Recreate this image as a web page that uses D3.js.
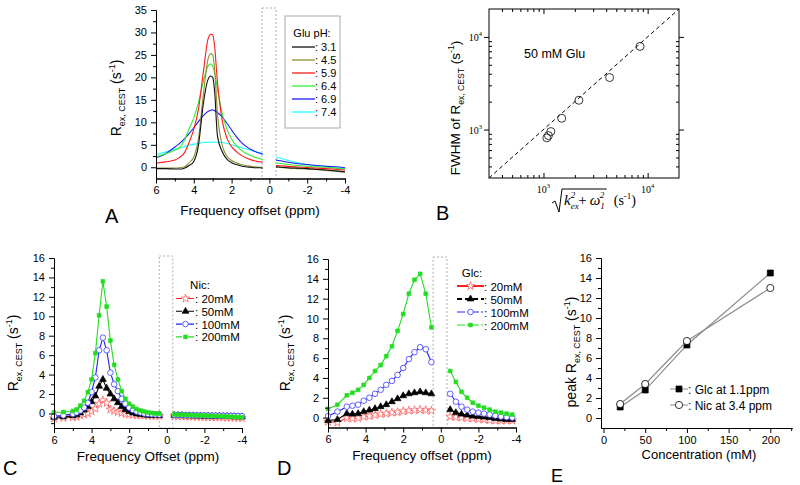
<!DOCTYPE html>
<html><head><meta charset="utf-8">
<script src="https://cdn.jsdelivr.net/npm/d3@7"></script>
<style>html,body{margin:0;padding:0;background:#fff;}</style>
</head><body>
<svg id="chart" width="800" height="485" xmlns="http://www.w3.org/2000/svg"></svg>
<script>
// ---------------- data ----------------
// Panel A: Glu at different pH (null = gap around 0 ppm)
const ppmA = [6,5.5,5,4.75,4.5,4.25,4,3.75,3.5,3.25,3.1,3.0,2.9,2.75,2.5,2.25,2,1.75,1.5,1.25,1,0.75,0.5,0.35,0,-0.35,-0.5,-1,-1.5,-2,-2.5,-3,-3.5,-4];
const gluPH = ["3.1","4.5","5.9","6.4","6.9","7.4"];
const glu31 = [-0.3,-0.3,-0.4,-0.4,-0.2,0.4,1.3,5,14,19.5,20.3,20,17,7,3.5,1.8,1.0,0.6,0.3,0.1,0,-0.1,-0.1,-0.2,null,0.1,0.05,-0.1,-0.2,-0.3,-0.5,-0.6,-0.8,-1.0];
const glu45 = [-0.2,-0.2,-0.2,-0.1,0.1,1.0,2.3,6.5,16,24,25.3,25,22,12,5,2.5,1.5,1,0.6,0.4,0.2,0.1,0,0,null,0.05,0,-0.2,-0.3,-0.4,-0.5,-0.7,-0.9,-1.1];
const glu59 = [0.9,1.2,1.6,2.2,3.2,5.5,8.5,13,21,28.5,29.6,29.5,27,19,10.5,6.5,4.6,3.5,2.7,2.1,1.7,1.4,1.2,1.1,null,0.4,0.35,0.2,0.05,-0.05,-0.2,-0.3,-0.45,-0.6];
const glu64 = [2.3,3.0,3.8,4.4,6,8.5,11,14.5,19,22.5,23,22.5,21,17.5,12,8.5,6.3,4.8,3.8,3.1,2.6,2.2,1.9,1.7,null,1.0,0.9,0.6,0.4,0.2,0.1,0,-0.2,-0.4];
const glu69 = [2.1,3,4.5,5.3,6.3,7.5,8.8,10.2,11.5,12.4,12.7,12.8,12.6,12.2,11.2,9.8,8.3,6.8,5.6,4.7,4,3.5,3.1,2.9,null,1.6,1.5,1.1,0.8,0.6,0.4,0.2,0.1,-0.1];
const glu74 = [2.8,3.4,4.0,4.3,4.6,4.9,5.1,5.3,5.5,5.55,5.6,5.6,5.6,5.55,5.5,5.3,5.0,4.7,4.4,4.1,3.8,3.5,3.2,3.0,null,2.3,2.1,1.5,1.0,0.6,0.3,0.1,-0.1,-0.3];

// Panel B: FWHM vs sqrt(kex^2 + w1^2)
const bX = [1077,1116,1177,1496,2188,4314,8450];
const bY = [814,861,951,1324,2070,3640,7900];

// Panel C: Nic
const ppmC = [6,5.5,5,4.8,4.6,4.4,4.2,4,3.8,3.6,3.4,3.2,3,2.8,2.6,2.4,2.2,2,1.8,1.6,1.4,1.2,1,0.8,0.6,0.4,0,-0.4,-0.6,-0.8,-1,-1.2,-1.4,-1.6,-1.8,-2,-2.2,-2.4,-2.6,-2.8,-3,-3.2,-3.4,-3.6,-3.8,-4];
const concLabels = ["20mM","50mM","100mM","200mM"];
const nic20 = [-0.5,-0.45,-0.4,-0.35,-0.2,-0.1,0,0.2,0.5,1.0,1.35,1.1,0.4,0.25,0.15,0.05,-0.05,-0.1,-0.15,-0.2,-0.2,-0.22,-0.24,-0.25,-0.25,-0.26,null,-0.28,-0.3,-0.3,-0.32,-0.32,-0.33,-0.35,-0.35,-0.36,-0.38,-0.4,-0.4,-0.4,-0.42,-0.42,-0.44,-0.45,-0.45,-0.46];
const nic50 = [-0.4,-0.35,-0.25,-0.15,0.05,0.35,0.7,1.2,1.8,2.8,3.5,2.6,2.0,1.5,1.1,0.7,0.4,0.2,0.05,-0.05,-0.1,-0.15,-0.18,-0.2,-0.22,-0.22,null,-0.2,-0.22,-0.22,-0.24,-0.24,-0.25,-0.26,-0.27,-0.28,-0.28,-0.3,-0.3,-0.3,-0.32,-0.32,-0.33,-0.34,-0.35,-0.35];
const nic100 = [-0.3,-0.2,-0.05,0.1,0.3,0.6,1.1,2.2,3.7,6.5,7.8,6.5,4.2,3.0,2.3,1.5,1.0,0.6,0.35,0.2,0.1,0,-0.05,-0.08,-0.1,-0.12,null,-0.15,-0.15,-0.16,-0.17,-0.18,-0.18,-0.2,-0.2,-0.2,-0.22,-0.22,-0.22,-0.24,-0.24,-0.25,-0.25,-0.26,-0.27,-0.28];
const nic200 = [0.1,0.15,0.25,0.4,0.8,1.3,2.2,3.5,6.2,10.1,13.6,11.0,7.5,5.0,3.5,2.3,1.5,1.0,0.7,0.45,0.3,0.2,0.1,0.05,0,-0.02,null,-0.1,-0.12,-0.14,-0.15,-0.17,-0.18,-0.2,-0.2,-0.22,-0.24,-0.25,-0.27,-0.28,-0.3,-0.32,-0.34,-0.36,-0.38,-0.4];

// Panel D: Glc
const ppmD = [6,5.5,5,4.7,4.4,4.1,3.8,3.5,3.2,2.9,2.6,2.3,2,1.7,1.4,1.1,0.8,0.5,0,-0.5,-0.8,-1.1,-1.4,-1.7,-2,-2.3,-2.6,-2.9,-3.2,-3.5,-3.8];
const glc20 = [-0.4,-0.5,-0.05,-0.1,-0.05,0.1,0.15,0.25,0.35,0.4,0.5,0.55,0.65,0.7,0.75,0.8,0.75,0.7,null,0.1,0.05,0,-0.05,-0.1,-0.15,-0.2,-0.25,-0.3,-0.3,-0.3,-0.3];
const glc50 = [-0.3,-0.2,0.4,0.35,0.4,0.6,0.75,0.9,1.1,1.3,1.6,1.9,2.2,2.4,2.5,2.6,2.5,2.4,null,0.8,0.5,0.35,0.25,0.15,0.1,0.05,0,-0.1,-0.15,-0.2,-0.2];
const glc100 = [0.15,0.6,1.1,1.2,1.3,1.7,2.0,2.4,2.8,3.3,3.7,4.3,5.0,5.9,6.6,7.1,6.9,5.6,null,2.4,1.6,1.1,0.8,0.6,0.5,0.4,0.3,0.2,0.1,0.05,0.0];
const glc200 = [0.87,1.3,2.25,2.5,2.8,3.3,4.0,4.7,5.3,6.2,7.2,8.75,10.45,12.5,13.9,14.5,12.5,9.1,null,4.7,3.6,2.6,2.0,1.5,1.2,1.0,0.8,0.6,0.5,0.4,0.3];

// Panel E: peak vs concentration
const concE = [20,50,100,200];
const glcPeak = [1.1,2.8,7.3,14.5];
const nicPeak = [1.4,3.4,7.7,13.0];

// ---------------- drawing ----------------
const SANS = '"Liberation Sans", Arial, sans-serif';
const SERIF = '"Liberation Serif", "Times New Roman", serif';
const svg = d3.select('#chart').attr('font-family', SANS);

function styleAxis(g, fs) {
  g.attr('font-family', SANS);
  g.selectAll('text').attr('font-size', fs || 11).attr('fill', '#000').attr('font-family', SANS);
  g.selectAll('path.domain').attr('stroke', '#000').attr('stroke-width', 1);
  g.selectAll('line').attr('stroke', '#000').attr('stroke-width', 1);
}

function linAxes(x, y, xMajor, xMinor, yMajor, yMinor) {
  const yb = y.range()[0], xl = x.range()[0];
  const bx = svg.append('g').attr('transform', `translate(0,${yb})`);
  bx.append('g').call(d3.axisBottom(x).tickValues(xMinor).tickSize(3).tickFormat('').tickSizeOuter(0));
  bx.append('g').call(d3.axisBottom(x).tickValues(xMajor).tickSize(5).tickPadding(3).tickSizeOuter(0).tickFormat(d => String(d)));
  styleAxis(bx);
  const ly = svg.append('g').attr('transform', `translate(${xl},0)`);
  ly.append('g').call(d3.axisLeft(y).tickValues(yMinor).tickSize(3).tickFormat('').tickSizeOuter(0));
  ly.append('g').call(d3.axisLeft(y).tickValues(yMajor).tickSize(5).tickPadding(4).tickSizeOuter(0).tickFormat(d => String(d)));
  styleAxis(ly);
}

function gapBox(x, y, a, b) {
  svg.append('rect')
    .attr('x', x(a)).attr('width', x(b) - x(a))
    .attr('y', y.range()[1] - 2).attr('height', y.range()[0] - y.range()[1] + 2)
    .attr('fill', 'none').attr('stroke', '#999').attr('stroke-width', 0.8).attr('stroke-dasharray', '2,2');
}

function rexLabel(g, fs, prefix) {
  const t = g.append('text').attr('text-anchor', 'middle').attr('font-size', fs).attr('fill', '#000');
  t.append('tspan').text(prefix + 'R');
  t.append('tspan').attr('font-size', fs * 0.64).attr('dy', 4).text('ex, CEST');
  t.append('tspan').attr('dy', -4).text(' (s');
  t.append('tspan').attr('font-size', fs * 0.64).attr('dy', -6).text('-1');
  t.append('tspan').attr('dy', 6).text(')');
  return t;
}

function text(x, y, s, fs, anchor) {
  return svg.append('text').attr('x', x).attr('y', y).attr('font-size', fs)
    .attr('text-anchor', anchor || 'start').attr('fill', '#000').text(s);
}

function marker(g, sym, cx, cy) {
  if (sym.type === 'circle') {
    g.append('circle').attr('cx', cx).attr('cy', cy).attr('r', sym.r)
      .attr('fill', sym.fill).attr('stroke', sym.stroke).attr('stroke-width', 0.8);
  } else {
    g.append('path').attr('d', d3.symbol().type(sym.type).size(sym.size)())
      .attr('transform', `translate(${cx},${cy})`)
      .attr('fill', sym.fill).attr('stroke', sym.stroke).attr('stroke-width', 0.7);
  }
}

function series(x, y, xs, ys, color, sym, curve) {
  const pts = xs.map((v, i) => ({x: v, y: ys[i]}));
  const line = d3.line().defined(d => d.y != null).x(d => x(d.x)).y(d => y(d.y));
  if (curve) line.curve(curve);
  svg.append('path').attr('d', line(pts)).attr('fill', 'none').attr('stroke', color).attr('stroke-width', 1.1);
  if (sym) {
    const g = svg.append('g');
    pts.filter(d => d.y != null).forEach(d => marker(g, sym, x(d.x), y(d.y)));
  }
}

// ---- Panel A ----
const xA = d3.scaleLinear().domain([6, -4]).range([156, 345]);
const yA = d3.scaleLinear().domain([-2.5, 35]).range([178.5, 10]);
const colorsA = ["#111111", "#8f8f30", "#ff1a1a", "#33ee33", "#1a1aff", "#22ffff"];
const seriesA = [glu31, glu45, glu59, glu64, glu69, glu74];
gapBox(xA, yA, 0.39, -0.35);
[5, 4, 3, 2, 1, 0].forEach(i => series(xA, yA, ppmA, seriesA[i], colorsA[i], null, d3.curveMonotoneX));
linAxes(xA, yA, [6, 4, 2, 0, -2, -4], [5, 3, 1, -1, -3],
  d3.range(0, 36, 5), d3.range(2.5, 35, 5));
// legend A
svg.append('rect').attr('x', 285).attr('y', 16).attr('width', 55).attr('height', 112)
  .attr('fill', '#fff').attr('stroke', '#aaa').attr('stroke-width', 1);
text(312, 37, 'Glu pH:', 11, 'middle');
gluPH.forEach((p, i) => {
  const yy = 47 + 13 * i;
  svg.append('line').attr('x1', 292).attr('x2', 315).attr('y1', yy).attr('y2', yy)
    .attr('stroke', colorsA[i]).attr('stroke-width', 1.3);
  text(315, yy + 4, ': ' + p, 11);
});
rexLabel(svg.append('g').attr('transform', 'translate(121,98) rotate(-90)'), 14, '');
text(250, 215, 'Frequency offset (ppm)', 13.5, 'middle');
text(105, 223, 'A', 20);

// ---- Panel B ----
const xB = d3.scaleLog().domain([300, 20000]).range([489, 679]);
const yB = d3.scaleLog().domain([300, 20000]).range([178, 9]);
const minorB = [400, 500, 600, 700, 800, 900, 2000, 3000, 4000, 5000, 6000, 7000, 8000, 9000];
const majorB = [1000, 10000];
svg.append('rect').attr('x', 489).attr('y', 9).attr('width', 190).attr('height', 169)
  .attr('fill', 'none').attr('stroke', '#000').attr('stroke-width', 1);
const tB = svg.append('g');
tB.append('g').attr('transform', 'translate(0,178)').call(d3.axisTop(xB).tickValues(minorB).tickSize(3).tickFormat('').tickSizeOuter(0));
tB.append('g').attr('transform', 'translate(0,178)').call(d3.axisTop(xB).tickValues(majorB).tickSize(5).tickFormat('').tickSizeOuter(0));
tB.append('g').attr('transform', 'translate(0,9)').call(d3.axisBottom(xB).tickValues(minorB).tickSize(3).tickFormat('').tickSizeOuter(0));
tB.append('g').attr('transform', 'translate(0,9)').call(d3.axisBottom(xB).tickValues(majorB).tickSize(5).tickFormat('').tickSizeOuter(0));
tB.append('g').attr('transform', 'translate(489,0)').call(d3.axisRight(yB).tickValues(minorB).tickSize(3).tickFormat('').tickSizeOuter(0));
tB.append('g').attr('transform', 'translate(489,0)').call(d3.axisLeft(yB).tickValues(majorB).tickSize(5).tickFormat('').tickSizeOuter(0));
tB.append('g').attr('transform', 'translate(679,0)').call(d3.axisLeft(yB).tickValues(minorB).tickSize(3).tickFormat('').tickSizeOuter(0));
tB.append('g').attr('transform', 'translate(679,0)').call(d3.axisRight(yB).tickValues(majorB).tickSize(5).tickFormat('').tickSizeOuter(0));
styleAxis(tB);
tB.selectAll('path.domain').remove();
majorB.forEach(v => {
  const e = Math.round(Math.log10(v));
  const tx = svg.append('text').attr('x', xB(v)).attr('y', 193).attr('text-anchor', 'middle').attr('font-size', 10).attr('font-family', SERIF);
  tx.append('tspan').text('10');
  tx.append('tspan').attr('font-size', 6.5).attr('dy', -5).text(e);
  const ty = svg.append('text').attr('x', 482).attr('y', yB(v) + 4).attr('text-anchor', 'end').attr('font-size', 10).attr('font-family', SERIF);
  ty.append('tspan').text('10');
  ty.append('tspan').attr('font-size', 6.5).attr('dy', -5).text(e);
});
svg.append('line').attr('x1', xB(300)).attr('y1', yB(300)).attr('x2', xB(20000)).attr('y2', yB(20000))
  .attr('stroke', '#000').attr('stroke-width', 1).attr('stroke-dasharray', '4,3');
bX.forEach((v, i) => svg.append('circle').attr('cx', xB(v)).attr('cy', yB(bY[i])).attr('r', 4)
  .attr('fill', 'none').attr('stroke', '#222').attr('stroke-width', 0.9));
text(524, 58, '50 mM Glu', 12.5);
rexLabel(svg.append('g').attr('transform', 'translate(460,108) rotate(-90)'), 13.5, 'FWHM of ');
// x label of B: sqrt(kex^2 + w1^2) (s^-1)
const rad = svg.append('text').attr('x', 564).attr('y', 205).attr('font-family', SERIF).attr('font-size', 15).attr('font-style', 'italic');
rad.append('tspan').text('k');
rad.append('tspan').attr('font-size', 9).attr('dy', 4).text('ex');
rad.append('tspan').attr('font-size', 9).attr('dx', -8).attr('dy', -11).text('2');
rad.append('tspan').attr('font-style', 'normal').attr('dx', 3).attr('dy', 7).text('+');
rad.append('tspan').attr('dx', 3).text('ω');
rad.append('tspan').attr('font-size', 9).attr('dy', 4).text('1');
rad.append('tspan').attr('font-size', 9).attr('dx', -5).attr('dy', -11).text('2');
const bb = rad.node().getBBox();
const radTop = bb.y - 1, radLeft = bb.x - 12, radMid = bb.y + bb.height * 0.62, radBot = bb.y + bb.height + 1;
svg.append('path')
  .attr('d', `M${radLeft},${radMid} l3,-2 L${radLeft + 7},${radBot} L${bb.x - 2},${radTop} L${bb.x + bb.width + 2},${radTop}`)
  .attr('fill', 'none').attr('stroke', '#000').attr('stroke-width', 1);
const su = svg.append('text').attr('x', bb.x + bb.width + 9).attr('y', 205).attr('font-family', SERIF).attr('font-size', 14);
su.append('tspan').text('(s');
su.append('tspan').attr('font-size', 9).attr('dy', -6).text('-1');
su.append('tspan').attr('dy', 6).text(')');
text(436, 220, 'B', 20);

// ---- Panel C ----
const symStar = {type: d3.symbolStar, size: 22, fill: '#fff', stroke: '#ff5050'};
const symTri = {type: d3.symbolTriangle, size: 20, fill: '#000', stroke: '#000'};
const symCirc = {type: 'circle', r: 2.8, fill: '#fff', stroke: '#3a3aff'};
const symSq = {type: d3.symbolSquare, size: 14, fill: '#22dd22', stroke: '#22dd22'};
const colCD = ['#ff2020', '#000000', '#2222ff', '#22dd22'];
const symsCD = [symStar, symTri, symCirc, symSq];

const xC = d3.scaleLinear().domain([6, -4]).range([54, 242]);
const yC = d3.scaleLinear().domain([-1.5, 16]).range([428, 258]);
gapBox(xC, yC, 0.4, -0.32);
const seriesC = [nic20, nic50, nic100, nic200];
seriesC.forEach((s, i) => series(xC, yC, ppmC, s, colCD[i], symsCD[i]));
linAxes(xC, yC, [6, 4, 2, 0, -2, -4], [5, 3, 1, -1, -3], d3.range(0, 17, 2), d3.range(-1, 16, 2));
text(200, 289, 'Nic:', 11.5, 'middle');
concLabels.forEach((c, i) => {
  const yy = 298.5 + 12.8 * i;
  svg.append('line').attr('x1', 176).attr('x2', 195).attr('y1', yy).attr('y2', yy)
    .attr('stroke', colCD[i]).attr('stroke-width', 1.1).attr('stroke-dasharray', '6,2,2,2');
  marker(svg.append('g'), symsCD[i], 185.5, yy);
  text(195, yy + 4.5, ': ' + c, 11.5);
});
rexLabel(svg.append('g').attr('transform', 'translate(18,353) rotate(-90)'), 14, '');
text(148, 461, 'Frequency Offset (ppm)', 13.5, 'middle');
text(3, 475, 'C', 20);

// ---- Panel D ----
const xD = d3.scaleLinear().domain([6, -4]).range([328, 516]);
const yD = d3.scaleLinear().domain([-1, 16]).range([427.5, 259]);
gapBox(xD, yD, 0.41, -0.33);
const seriesD = [glc20, glc50, glc100, glc200];
seriesD.forEach((s, i) => series(xD, yD, ppmD, s, colCD[i], symsCD[i]));
linAxes(xD, yD, [6, 4, 2, 0, -2, -4], [5, 3, 1, -1, -3], d3.range(0, 17, 2), d3.range(1, 16, 2));
text(472, 277, 'Glc:', 11.5, 'middle');
const dashD = [null, '5,3', '8,2,2,2', '8,2,2,2'];
const widD = [2, 2, 1.1, 1.1];
concLabels.forEach((c, i) => {
  const yy = 286 + 13 * i;
  const l = svg.append('line').attr('x1', 457).attr('x2', 484).attr('y1', yy).attr('y2', yy)
    .attr('stroke', colCD[i]).attr('stroke-width', widD[i]);
  if (dashD[i]) l.attr('stroke-dasharray', dashD[i]);
  marker(svg.append('g'), symsCD[i], 470.5, yy);
  text(484, yy + 4.5, ': ' + c, 11.5);
});
rexLabel(svg.append('g').attr('transform', 'translate(290,353) rotate(-90)'), 14, '');
text(422, 460, 'Frequency offset (ppm)', 13.5, 'middle');
text(277, 475, 'D', 20);

// ---- Panel E ----
const xE = d3.scaleLinear().domain([-3, 226]).range([601, 792]);
const yE = d3.scaleLinear().domain([-1, 16]).range([428, 258]);
const symSqE = {type: d3.symbolSquare, size: 36, fill: '#000', stroke: '#000'};
const symCiE = {type: 'circle', r: 3.6, fill: '#fff', stroke: '#000'};
series(xE, yE, concE, glcPeak, '#8a8a8a', symSqE);
series(xE, yE, concE, nicPeak, '#8a8a8a', symCiE);
linAxes(xE, yE, [0, 50, 100, 150, 200], [25, 75, 125, 175, 225], d3.range(0, 17, 2), d3.range(1, 16, 2));
[['Glc at 1.1ppm', symSqE], ['Nic at 3.4 ppm', symCiE]].forEach((e, i) => {
  const yy = 389 + 16 * i;
  svg.append('line').attr('x1', 670).attr('x2', 688).attr('y1', yy).attr('y2', yy)
    .attr('stroke', '#8a8a8a').attr('stroke-width', 1);
  marker(svg.append('g'), e[1], 679, yy);
  text(688, yy + 4.5, ': ' + e[0], 12);
});
rexLabel(svg.append('g').attr('transform', 'translate(576,352) rotate(-90)'), 14, 'peak ');
text(699, 459, 'Concentration (mM)', 13, 'middle');
text(551, 482, 'E', 18);
</script>
</body></html>
